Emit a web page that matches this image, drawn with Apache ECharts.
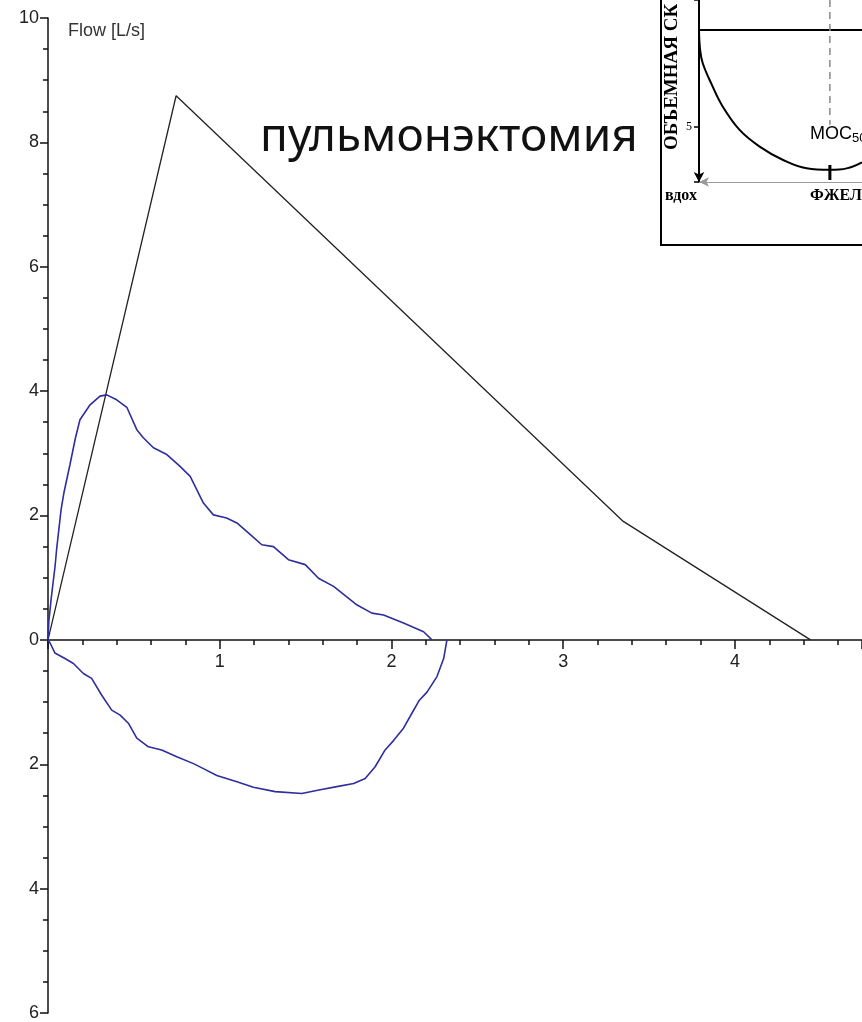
<!DOCTYPE html>
<html>
<head>
<meta charset="utf-8">
<script src="https://cdn.jsdelivr.net/npm/echarts@6/dist/echarts.min.js"></script>
<style>
  html, body { margin: 0; padding: 0; background: #fff; }
  #chart { width: 862px; height: 1022px; }
</style>
</head>
<body>
<div id="chart"></div>
<script>
// predicted (black) loop
var predX = [0, 0.746, 3.35, 4.44];
var predY = [0, 8.75, 1.905, 0];

// measured expiration (blue, above 0)
var expX = [0, 0.005, 0.02, 0.041, 0.05, 0.076, 0.093, 0.128, 0.16, 0.186, 0.245, 0.303, 0.342, 0.40, 0.459, 0.517, 0.555, 0.614, 0.692, 0.769, 0.828, 0.905, 0.963, 1.04, 1.10, 1.18, 1.245, 1.313, 1.40, 1.498, 1.575, 1.663, 1.80, 1.886, 1.954, 2.07, 2.187, 2.236];
var expY = [0, 0.3, 0.70, 1.18, 1.45, 2.09, 2.37, 2.82, 3.25, 3.54, 3.78, 3.92, 3.94, 3.86, 3.74, 3.38, 3.25, 3.09, 2.98, 2.79, 2.63, 2.20, 2.01, 1.96, 1.88, 1.69, 1.53, 1.50, 1.29, 1.21, 0.99, 0.86, 0.56, 0.43, 0.40, 0.27, 0.13, 0];

// measured inspiration (blue, below 0)
var inspX = [0, 0.012, 0.04, 0.099, 0.148, 0.206, 0.254, 0.313, 0.371, 0.42, 0.468, 0.517, 0.585, 0.662, 0.75, 0.847, 0.905, 0.983, 1.10, 1.196, 1.323, 1.478, 1.585, 1.682, 1.78, 1.847, 1.905, 1.963, 2.012, 2.07, 2.119, 2.16, 2.207, 2.265, 2.304, 2.323];
var inspY = [0, -0.05, -0.21, -0.30, -0.38, -0.54, -0.62, -0.89, -1.13, -1.21, -1.34, -1.58, -1.72, -1.77, -1.88, -1.99, -2.07, -2.18, -2.28, -2.37, -2.44, -2.47, -2.41, -2.36, -2.31, -2.23, -2.04, -1.77, -1.62, -1.42, -1.18, -0.98, -0.84, -0.59, -0.30, 0];

// inset textbook figure (own small axes)
var insetCurveX = [0, 0.007, 0.023, 0.075, 0.146, 0.249, 0.372, 0.516, 0.66, 0.803, 0.906, 1.0];
var insetCurveY = [1.19, 1.98, 2.50, 3.30, 4.22, 5.14, 5.80, 6.33, 6.66, 6.72, 6.66, 6.42];
var insetBaseX = [0, 1];
var insetBaseY = [1.19, 1.19];
var mosX = 0.803;
var mosDashY = [0, 4.94];
var mosBarY = [6.53, 7.12];

function zip(xs, ys) {
  return xs.map(function (x, i) { return [x, ys[i]]; });
}

var chart = echarts.init(document.getElementById('chart'));

var labelFont = 'Liberation Sans, Arial, sans-serif';
var serif = 'Liberation Serif, DejaVu Serif, serif';

// main plot: 16 units over 995 px, x axis sits 6 units above the bottom
var plotHeight = 995;
var zeroOffset = -6 * plotHeight / 16;

var option = {
  animation: false,
  backgroundColor: '#fff',
  grid: [
    { left: 48, top: 18, width: 814, height: plotHeight, containLabel: false, outerBoundsMode: 'none' },
    { left: 699, top: 0, width: 163, height: 182, containLabel: false, outerBoundsMode: 'none' }
  ],
  xAxis: [
    {
      gridIndex: 0,
      type: 'value',
      position: 'bottom',
      offset: zeroOffset,
      min: 0,
      max: 4.74,
      interval: 1,
      axisLine: { onZero: false, lineStyle: { color: '#111', width: 1.5 } },
      axisTick: { length: 9, lineStyle: { color: '#111', width: 1.5 } },
      minorTick: { show: true, splitNumber: 5, length: 5, lineStyle: { color: '#111', width: 1.5 } },
      axisLabel: { showMinLabel: false, showMaxLabel: false, margin: 13, fontSize: 18, fontFamily: labelFont, color: '#222' },
      splitLine: { show: false }
    },
    {
      gridIndex: 1,
      type: 'value',
      min: 0,
      max: 1,
      axisLine: { onZero: false, symbol: ['arrow', 'none'], symbolSize: [7, 10], lineStyle: { color: '#999', width: 1 } },
      axisTick: { show: false },
      axisLabel: { show: false },
      splitLine: { show: false }
    }
  ],
  yAxis: [
    {
      gridIndex: 0,
      type: 'value',
      min: -6,
      max: 10,
      interval: 2,
      axisLine: { show: true, onZero: false, lineStyle: { color: '#111', width: 1.5 } },
      axisTick: { show: true, length: 8, lineStyle: { color: '#111', width: 1.5 } },
      minorTick: { show: true, splitNumber: 4, length: 5, lineStyle: { color: '#111', width: 1.5 } },
      axisLabel: {
        margin: 9, fontSize: 18, fontFamily: labelFont, color: '#222',
        formatter: function (v) { return String(Math.abs(v)); }
      },
      splitLine: { show: false }
    },
    {
      gridIndex: 1,
      type: 'value',
      inverse: true,
      min: 0,
      max: 7.2,
      interval: 5,
      axisLine: { show: true, onZero: false, symbol: ['arrow', 'none'], symbolSize: [8, 10], lineStyle: { color: '#000', width: 2 } },
      axisTick: { show: true, length: 5, lineStyle: { color: '#000', width: 1.5 } },
      axisLabel: {
        margin: 7, fontSize: 12, fontFamily: serif, color: '#000',
        formatter: function (v) { return v === 5 ? '5' : ''; }
      },
      splitLine: { show: false }
    }
  ],
  graphic: [
    {
      type: 'rect', z: -1,
      shape: { x: 661, y: -5, width: 220, height: 250 },
      style: { fill: '#fff', stroke: '#000', lineWidth: 2 }
    },
    {
      type: 'text', left: 68, top: 22,
      style: { text: 'Flow [L/s]', font: '18px ' + labelFont, fill: '#333' }
    },
    {
      type: 'text', x: 260, y: 138,
      style: { text: 'пульмонэктомия', font: '46px "Noto Sans", "Open Sans", sans-serif', fill: '#111', verticalAlign: 'middle' }
    },
    {
      type: 'text', x: 672, y: 150, rotation: Math.PI / 2,
      style: { text: 'ОБЪЕМНАЯ СК', font: 'bold 19px ' + serif, fill: '#000', verticalAlign: 'middle', align: 'left' }
    },
    {
      type: 'text', x: 665, y: 196,
      style: { text: 'вдох', font: 'bold 16px ' + serif, fill: '#000', verticalAlign: 'middle' }
    },
    {
      type: 'text', x: 810, y: 196,
      style: { text: 'ФЖЕЛ', font: 'bold 16px ' + serif, fill: '#000', verticalAlign: 'middle' }
    },
    {
      type: 'text', x: 810, y: 134,
      style: {
        text: '{m|МОС}{s|50}',
        verticalAlign: 'middle',
        rich: {
          m: { fontSize: 18, fontFamily: labelFont, fill: '#000' },
          s: { fontSize: 13, fontFamily: labelFont, fill: '#000', padding: [8, 0, 0, 0] }
        }
      }
    }
  ],
  series: [
    {
      name: 'predicted', type: 'line', xAxisIndex: 0, yAxisIndex: 0,
      data: zip(predX, predY), showSymbol: false,
      lineStyle: { color: '#222', width: 1.3 }
    },
    {
      name: 'expiration', type: 'line', xAxisIndex: 0, yAxisIndex: 0,
      data: zip(expX, expY), showSymbol: false,
      lineStyle: { color: '#2e2e9c', width: 1.6 }
    },
    {
      name: 'inspiration', type: 'line', xAxisIndex: 0, yAxisIndex: 0,
      data: zip(inspX, inspY), showSymbol: false,
      lineStyle: { color: '#2e2e9c', width: 1.6 }
    },
    {
      name: 'insetBase', type: 'line', xAxisIndex: 1, yAxisIndex: 1,
      data: zip(insetBaseX, insetBaseY), showSymbol: false,
      lineStyle: { color: '#000', width: 2 }
    },
    {
      name: 'insetCurve', type: 'line', xAxisIndex: 1, yAxisIndex: 1, smooth: 0.4,
      data: zip(insetCurveX, insetCurveY), showSymbol: false,
      lineStyle: { color: '#000', width: 2 }
    },
    {
      name: 'mosDash', type: 'line', xAxisIndex: 1, yAxisIndex: 1,
      data: zip([mosX, mosX], mosDashY), showSymbol: false,
      lineStyle: { color: '#888', width: 1.5, type: [7, 5] }
    },
    {
      name: 'mosBar', type: 'line', xAxisIndex: 1, yAxisIndex: 1,
      data: zip([mosX, mosX], mosBarY), showSymbol: false,
      lineStyle: { color: '#000', width: 3 }
    }
  ]
};

chart.setOption(option);
</script>
</body>
</html>
